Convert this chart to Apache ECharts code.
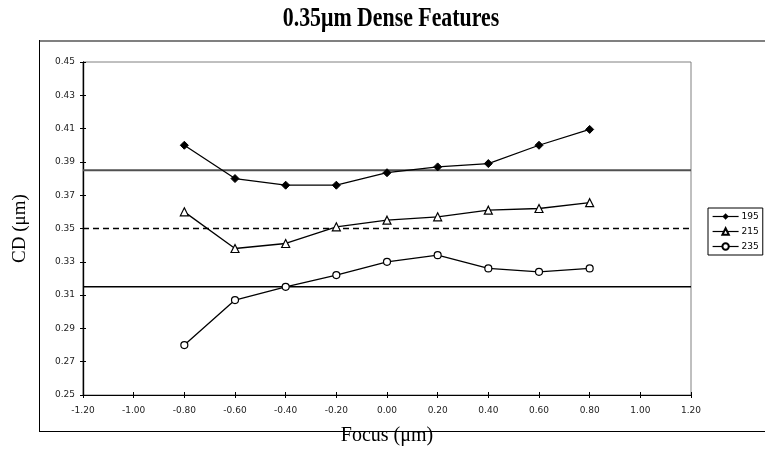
<!DOCTYPE html>
<html>
<head>
<meta charset="utf-8">
<script src="https://cdn.jsdelivr.net/npm/echarts@6/dist/echarts.min.js"></script>
<style>
  html, body { margin: 0; padding: 0; background: #fff; }
  #chart { width: 765px; height: 452px; }
</style>
</head>
<body>
<div id="chart"></div>
<script>
// Focus positions (µm) and measured CD (µm) for each exposure dose
const focus = [-0.8, -0.6, -0.4, -0.2, 0.0, 0.2, 0.4, 0.6, 0.8];
const cd195 = [0.400, 0.380, 0.376, 0.376, 0.3835, 0.387, 0.389, 0.400, 0.4095];
const cd215 = [0.360, 0.338, 0.341, 0.351, 0.355, 0.357, 0.361, 0.362, 0.3655];
const cd235 = [0.280, 0.307, 0.315, 0.322, 0.330, 0.334, 0.326, 0.324, 0.326];

// Specification limits: upper, target, lower
const specUpper = 0.385;
const specTarget = 0.35;
const specLower = 0.315;

const xRange = [-1.2, 1.2];
const yRange = [0.25, 0.45];

const pairs = (ys) => focus.map((x, i) => [x, ys[i]]);
const flat = (v) => xRange.map((x) => [x, v]);

const tickFont = { fontFamily: 'DejaVu Sans', fontSize: 9, color: '#222' };
const serif = 'Liberation Serif';

const chart = echarts.init(document.getElementById('chart'), null, { renderer: 'canvas' });

const xBase = {
  type: 'value', min: xRange[0], max: xRange[1], interval: 0.2,
  splitLine: { show: false },
  axisLine: { onZero: false, lineStyle: { color: '#000', width: 1.2 } }
};
const yBase = {
  type: 'value', min: yRange[0], max: yRange[1], interval: 0.02,
  splitLine: { show: false },
  axisLine: { onZero: false, lineStyle: { color: '#000', width: 1.2 } }
};

chart.setOption({
  backgroundColor: '#fff',
  animation: false,
  graphic: [
    { type: 'line', shape: { x1: 39, y1: 41, x2: 765, y2: 41 }, style: { stroke: '#808080', lineWidth: 2 }, z: 0 },
    { type: 'line', shape: { x1: 39.5, y1: 40, x2: 39.5, y2: 431 }, style: { stroke: '#000', lineWidth: 1 }, z: 0 },
    { type: 'line', shape: { x1: 39, y1: 431.5, x2: 765, y2: 431.5 }, style: { stroke: '#000', lineWidth: 1 }, z: 0 },
    {
      type: 'text', x: 391, y: 19, scaleX: 0.78, z: 10,
      style: {
        text: '0.35μm Dense Features',
        font: 'bold 28px "Liberation Serif"',
        fill: '#000', textAlign: 'center', textVerticalAlign: 'middle'
      }
    }
  ],
  grid: {
    left: 83, right: 74, top: 62, bottom: 57,
    outerBoundsMode: 'none', containLabel: false,
    show: true, borderColor: '#808080', borderWidth: 1
  },
  legend: {
    data: ['195', '215', '235'],
    orient: 'vertical', left: 708, top: 208,
    itemWidth: 26, itemHeight: 8, itemGap: 6,
    padding: [4, 4, 4, 4],
    borderColor: '#000', borderWidth: 1, borderRadius: 0,
    backgroundColor: '#fff',
    lineStyle: { width: 1.2 },
    textStyle: { fontFamily: 'DejaVu Sans', fontSize: 9, color: '#000', padding: [0, 0, 0, -2] }
  },
  xAxis: [
    Object.assign({}, xBase, {
      name: 'Focus (μm)', nameLocation: 'middle', nameGap: 31,
      nameTextStyle: { fontFamily: serif, fontSize: 20, color: '#000' },
      axisTick: { show: true, inside: false, length: 3, lineStyle: { color: '#000' } },
      axisLabel: Object.assign({ margin: 11, formatter: (v) => v.toFixed(2) }, tickFont)
    }),
    Object.assign({}, xBase, {
      position: 'bottom',
      axisTick: { show: true, inside: true, length: 3, lineStyle: { color: '#000' } },
      axisLabel: { show: false }
    })
  ],
  yAxis: [
    Object.assign({}, yBase, {
      name: 'CD (μm)', nameLocation: 'middle', nameGap: 53, nameRotate: 90,
      nameTextStyle: { fontFamily: serif, fontSize: 19, color: '#000' },
      axisTick: { show: true, inside: false, length: 3, lineStyle: { color: '#000' } },
      axisLabel: Object.assign({ margin: 8, formatter: (v) => v.toFixed(2) }, tickFont)
    }),
    Object.assign({}, yBase, {
      position: 'left',
      axisTick: { show: true, inside: true, length: 3, lineStyle: { color: '#000' } },
      axisLabel: { show: false }
    })
  ],
  series: [
    {
      name: 'Upper limit', type: 'line', data: flat(specUpper), symbol: 'none', silent: true,
      lineStyle: { color: '#505050', width: 2 }, z: 1
    },
    {
      name: 'Target', type: 'line', data: flat(specTarget), symbol: 'none', silent: true,
      lineStyle: { color: '#000', width: 1.3, type: [6, 4] }, z: 1
    },
    {
      name: 'Lower limit', type: 'line', data: flat(specLower), symbol: 'none', silent: true,
      lineStyle: { color: '#000', width: 1.5 }, z: 1
    },
    {
      name: '195', type: 'line', data: pairs(cd195),
      symbol: 'diamond', symbolSize: 8,
      itemStyle: { color: '#000', borderColor: '#000' },
      lineStyle: { color: '#000', width: 1.3 }, z: 3
    },
    {
      name: '215', type: 'line', data: pairs(cd215),
      symbol: 'triangle', symbolSize: 8,
      itemStyle: { color: '#fff', borderColor: '#000', borderWidth: 1.2 },
      lineStyle: { color: '#000', width: 1.3 }, z: 3
    },
    {
      name: '235', type: 'line', data: pairs(cd235),
      symbol: 'circle', symbolSize: 7,
      itemStyle: { color: '#fff', borderColor: '#000', borderWidth: 1.2 },
      lineStyle: { color: '#000', width: 1.3 }, z: 3
    }
  ]
});
</script>
</body>
</html>
